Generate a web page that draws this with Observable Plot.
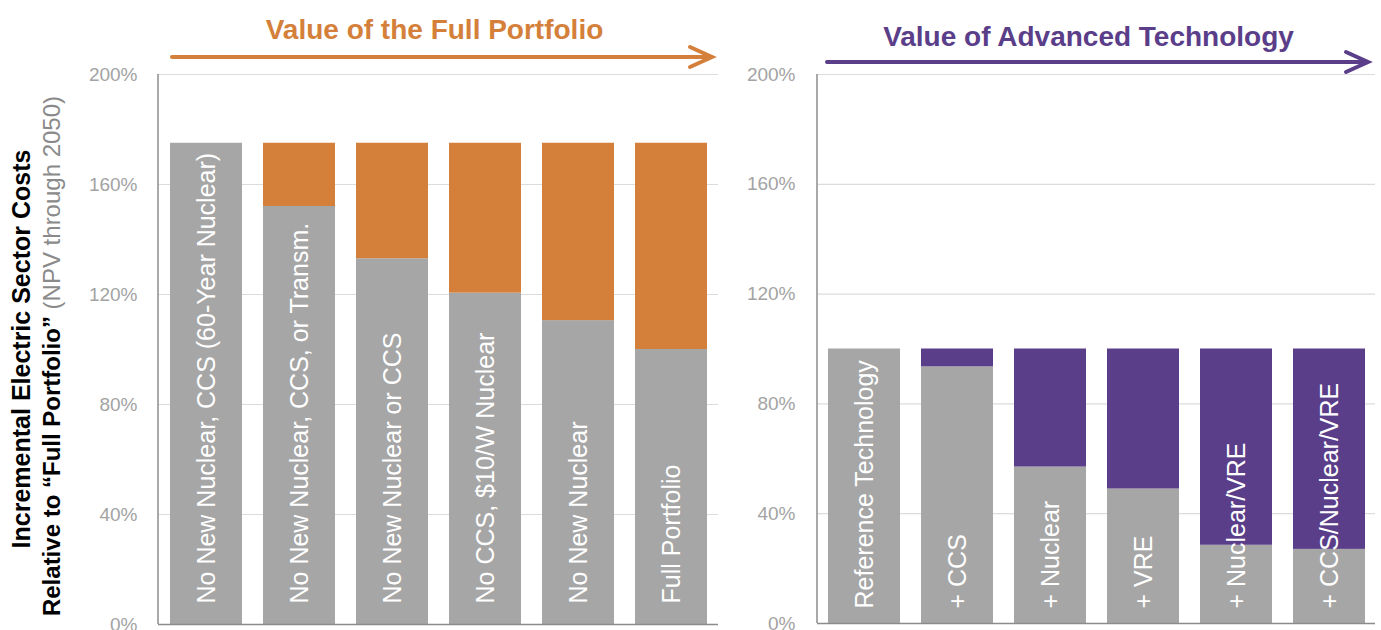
<!DOCTYPE html>
<html>
<head>
<meta charset="utf-8">
<script src="https://cdn.jsdelivr.net/npm/d3@7"></script>
<script src="https://cdn.jsdelivr.net/npm/@observablehq/plot@0.6"></script>
<style>
  html, body { margin: 0; padding: 0; background: #fff; }
  #wrap { display: flex; flex-direction: row; width: 1381px; height: 630px; }
  svg { display: block; }
</style>
</head>
<body>
<div id="wrap"></div>
<script>
// ---------- data ----------
const leftTitle = "Value of the Full Portfolio";
const rightTitle = "Value of Advanced Technology";
const leftCategories = [
  "No New Nuclear, CCS (60-Year Nuclear)",
  "No New Nuclear, CCS, or Transm.",
  "No New Nuclear or CCS",
  "No CCS, $10/W Nuclear",
  "No New Nuclear",
  "Full Portfolio"
];
const leftBase = [175, 152, 133, 120.5, 110.5, 100];
const leftTotal = [175, 175, 175, 175, 175, 175];

const rightCategories = [
  "Reference Technology",
  "+ CCS",
  "+ Nuclear",
  "+ VRE",
  "+ Nuclear/VRE",
  "+ CCS/Nuclear/VRE"
];
const rightBase = [100, 93.5, 57, 49, 28.5, 27];
const rightTotal = [100, 100, 100, 100, 100, 100];

const yTicks = [0, 40, 80, 120, 160, 200];
const yTitle1 = "Incremental Electric Sector Costs";
const yTitle2a = "Relative to \u201CFull Portfolio\u201D";
const yTitle2b = " (NPV through 2050)";

// ---------- styles ----------
const GRAY = "#a6a6a6";
const ORANGE = "#d47f3a";
const PURPLE = "#5a3e89";
const FONT = "'Liberation Sans', Helvetica, Arial, sans-serif";

function table(cats, base, total) {
  return cats.map((c, i) => ({cat: c, base: base[i], total: total[i]}));
}

function arrowMark(color, insetL, insetR, yPos) {
  return (index, scales, values, dim) => {
    const g = d3.create("svg:g");
    const x1 = dim.marginLeft + insetL;
    const x2 = dim.width - dim.marginRight - insetR;
    g.append("line").attr("x1", x1).attr("x2", x2 - 2).attr("y1", yPos).attr("y2", yPos)
      .attr("stroke", color).attr("stroke-width", 4).attr("stroke-linecap", "round");
    g.append("path").attr("d", `M${x2 - 22},${yPos - 10}L${x2},${yPos}L${x2 - 22},${yPos + 10}`)
      .attr("fill", "none").attr("stroke", color).attr("stroke-width", 4)
      .attr("stroke-linecap", "round").attr("stroke-linejoin", "miter");
    return g.node();
  };
}

function frameLeft() {
  return (index, scales, values, dim) => {
    const g = d3.create("svg:g");
    g.append("line").attr("x1", dim.marginLeft).attr("x2", dim.marginLeft)
      .attr("y1", dim.marginTop).attr("y2", dim.height - dim.marginBottom)
      .attr("stroke", "#8c8c8c").attr("stroke-width", 1.5);
    return g.node();
  };
}

function panel(opts) {
  const data = table(opts.cats, opts.base, opts.total);
  return Plot.plot({
    width: opts.width,
    height: 630,
    marginTop: 74,
    marginBottom: opts.marginBottom,
    marginLeft: opts.marginLeft,
    marginRight: opts.marginRight,
    style: {fontFamily: FONT, fontSize: "19px", background: "#fff", overflow: "visible"},
    x: {domain: opts.cats, axis: null, paddingInner: 0.228, paddingOuter: 0.11},
    y: {domain: [0, 200], axis: null},
    marks: [
      Plot.ruleY(yTicks.filter(d => d > 0), {stroke: "#dcdcdc", strokeWidth: 1.2}),
      Plot.barY(data, {x: "cat", y1: 0, y2: "base", fill: GRAY}),
      Plot.barY(data, {x: "cat", y1: "base", y2: "total", fill: opts.color}),
      Plot.text(data, {
        x: "cat", y: () => 0, text: "cat", rotate: -90, textAnchor: "start",
        lineAnchor: "middle", dy: opts.labelDy, fill: "white", fontSize: 25, fontFamily: FONT
      }),
      Plot.ruleY([0], {stroke: "#8c8c8c", strokeWidth: 1.5}),
      frameLeft(),
      Plot.axisY({
        ticks: yTicks, tickSize: 0, tickPadding: opts.tickPadding,
        tickFormat: d => d + "%", color: "#a3a3a3", fontSize: 19, label: null
      }),
      Plot.text([opts.title], {
        frameAnchor: "top", dx: opts.titleDx, dy: opts.titleDy, lineAnchor: "middle",
        fill: opts.color, fontSize: 28, fontWeight: "bold", fontFamily: FONT
      }),
      arrowMark(opts.color, opts.arrowL, opts.arrowR, opts.arrowY)
    ]
  });
}

const left = panel({
  width: 740, marginLeft: 158, marginRight: 22, marginBottom: 6,
  cats: leftCategories, base: leftBase, total: leftTotal, color: ORANGE,
  labelDy: -21, tickPadding: 21, title: leftTitle, titleDx: -4, titleDy: -44,
  arrowL: 14, arrowR: 6, arrowY: 57
});
const right = panel({
  width: 641, marginLeft: 77, marginRight: 6, marginBottom: 7,
  cats: rightCategories, base: rightBase, total: rightTotal, color: PURPLE,
  labelDy: -15, tickPadding: 22, title: rightTitle, titleDx: -8, titleDy: -37,
  arrowL: 10, arrowR: 7, arrowY: 62
});

// y-axis title (two rotated lines, mixed weights)
const s = d3.select(left);
s.append("text")
  .attr("transform", "translate(30,349) rotate(-90)")
  .attr("text-anchor", "middle")
  .attr("font-family", FONT).attr("font-size", 25).attr("font-weight", "bold")
  .attr("fill", "#000")
  .text(yTitle1);
const t2 = s.append("text")
  .attr("transform", "translate(60,356) rotate(-90)")
  .attr("text-anchor", "middle")
  .attr("font-family", FONT).attr("font-size", 24);
t2.append("tspan").attr("font-weight", "bold").attr("fill", "#000").text(yTitle2a);
t2.append("tspan").attr("font-weight", "normal").attr("fill", "#8a8a8a").text(yTitle2b);

document.getElementById("wrap").append(left, right);
</script>
</body>
</html>
